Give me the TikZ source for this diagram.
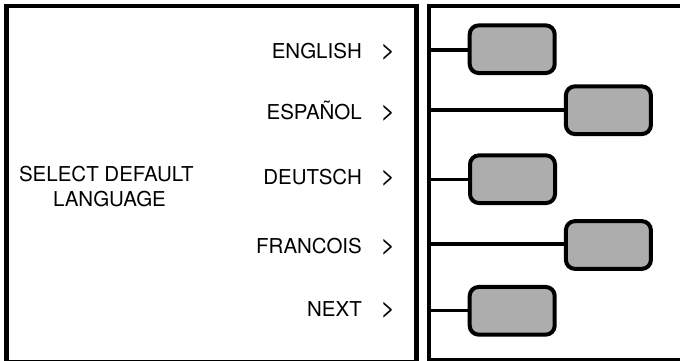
\documentclass[tikz,border=0pt]{standalone}
\usepackage{fontspec}
\setmainfont{TeX Gyre Heros}
\begin{document}
\begin{tikzpicture}[x=1pt,y=-1pt,
  panel/.style={draw=black,line width=4.5pt},
  choice/.style={draw=black,line width=4pt,fill=boxgray,rounded corners=9pt,minimum width=85pt,minimum height=47.7pt,inner sep=0pt},
  conn/.style={draw=black,line width=3.4pt},
  lbl/.style={font=\fontsize{20.5}{25}\selectfont,inner sep=0pt},
  gt/.style={font=\fontsize{25}{25}\selectfont,inner sep=0pt,anchor=base},
]
\definecolor{boxgray}{HTML}{ADADAD}
\useasboundingbox (0,0) rectangle (680,360);
\begin{scope}
\clip (0,0) rectangle (680,360);
\draw[panel] (6.5,6.2) rectangle (416.3,362);
\draw[panel] (429,6.2) rectangle (690,360.5);
\end{scope}
% left panel texts
\node[lbl,anchor=base] (sel1) at (106.3,181.5) {SELECT DEFAULT};
\node[lbl,anchor=base] (sel2) at (109.5,206.5) {LANGUAGE};
\node[lbl,anchor=base east] (en) at (362,58.5) {ENGLISH};
\node[lbl,anchor=base east] (es) at (362,119.3) {ESPAÑOL};
\node[lbl,anchor=base east] (de) at (362,184.3) {DEUTSCH};
\node[lbl,anchor=base east] (fr) at (362,253.9) {FRANCOIS};
\node[lbl,anchor=base east] (nx) at (362,316.7) {NEXT};
\node[gt] (gen) at (388,58.5) {>};
\node[gt] (ges) at (388,119.3) {>};
\node[gt] (gde) at (388,184.3) {>};
\node[gt] (gfr) at (388,253.9) {>};
\node[gt] (gnx) at (388,316.7) {>};
% right panel
\coordinate (s1) at (429,50);
\coordinate (s2) at (429,110);
\coordinate (s3) at (429,179.3);
\coordinate (s4) at (429,244);
\coordinate (s5) at (429,310.7);
\node[choice] (b1) at (512.2,49.2) {};
\node[choice] (b2) at (608.4,110.2) {};
\node[choice] (b3) at (512.5,179.2) {};
\node[choice] (b4) at (608.4,245) {};
\node[choice] (b5) at (512.2,310.8) {};
\draw[conn] (s1) -- (s1 -| b1.west);
\draw[conn] (s2) -- (s2 -| b2.west);
\draw[conn] (s3) -- (s3 -| b3.west);
\draw[conn] (s4) -- (s4 -| b4.west);
\draw[conn] (s5) -- (s5 -| b5.west);
\end{tikzpicture}
\end{document}
